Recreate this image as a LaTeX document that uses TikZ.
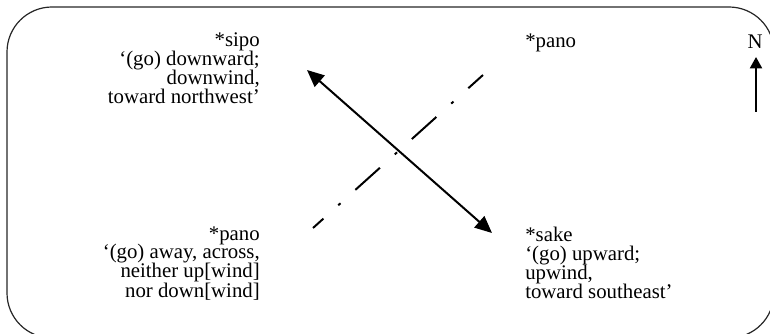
\documentclass[tikz,border=0pt]{standalone}
\usepackage{fontspec}
\setmainfont{Liberation Serif}
\usetikzlibrary{arrows.meta}
\begin{document}
\begin{tikzpicture}[x=0.75pt,y=-0.75pt,
  label/.style={inner sep=0pt, font=\fontsize{15.6pt}{14.25pt}\selectfont},
  frame/.style={draw=black!85, line width=0.9pt, rounded corners=33.75pt},
  dirarrow/.style={line width=1.5pt, {Triangle[length=12.75pt,width=11.25pt]}-{Triangle[length=12.75pt,width=11.25pt]}},
  crossline/.style={line width=1.5pt, dash pattern=on 24.75pt off 15pt on 2.25pt off 15pt, dash phase=14.25pt},
  northarrow/.style={line width=1.5pt, -{Triangle[length=8.5pt,width=9pt]}}]
\clip (0,0) rectangle (770,334);
% outer rounded frame (runs past the right and bottom edges)
\draw[frame] (7,7) rectangle (774,338);

% labels of the four directions (base = baseline of the last line)
\node[label, anchor=base east, align=right] (sipo) at (260,104)
  {*sipo\\`(go) downward;\\downwind,\\toward northwest'};
\node[label, anchor=base west, align=left] (panotop) at (525,48) {*pano};
\node[label, anchor=base east, align=right] (panobot) at (260,297)
  {*pano\\`(go) away, across,\\neither up[wind]\\nor down[wind]};
\node[label, anchor=base west, align=left] (sake) at (525,299)
  {*sake\\`(go) upward;\\upwind,\\toward southeast'};

% north marker
\node[label, anchor=base] (north) at (755,49) {N};
\coordinate (ntail) at (756,112);
\coordinate (nhead) at (756,57);
\draw[northarrow] (ntail) -- (nhead);

% downwind/upwind axis and the crossing axis
\coordinate (nw) at (307,70);
\coordinate (se) at (492,233);
\draw[dirarrow] (nw) -- (se);
\coordinate (sw) at (313,228);
\coordinate (ne) at (483,75);
\draw[crossline] (sw) -- (ne);
\end{tikzpicture}
\end{document}
